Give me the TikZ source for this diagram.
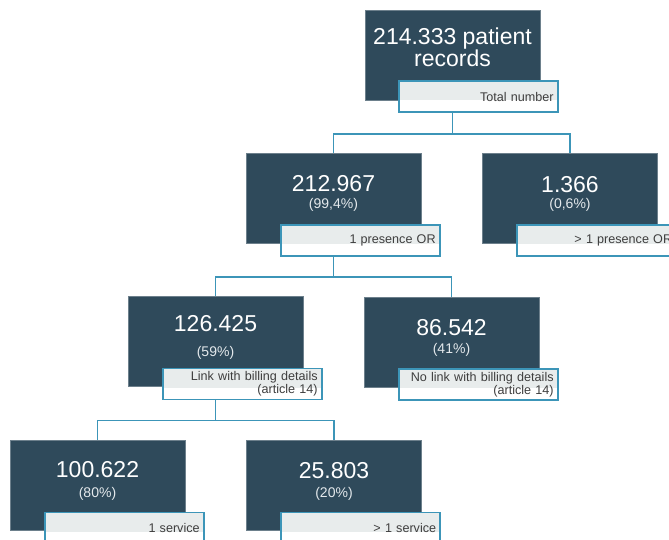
\documentclass[tikz,border=0pt]{standalone}
\usepackage{fontspec}
\setmainfont{Liberation Sans}
\usetikzlibrary{positioning,calc}

\definecolor{slate}{HTML}{2F4A5B}
\definecolor{wire}{HTML}{3C95B8}
\definecolor{tagfill}{HTML}{E8ECEC}
\definecolor{tagtext}{HTML}{3E3E3E}
\definecolor{pcttext}{HTML}{E4E9EC}

\tikzset{
	rec/.style={fill=slate, draw=slate!70!white, line width=0.4pt, minimum width=175pt, minimum height=90pt, inner sep=0pt},
	num/.style={text=white, font=\fontsize{23}{23}\selectfont, inner sep=0pt, anchor=base},
	pct/.style={text=pcttext, font=\fontsize{14}{14}\selectfont, inner sep=0pt, anchor=base},
	tag/.style={draw=wire, line width=1.7pt, fill=white, minimum width=159pt, minimum height=31pt,
		text width=151pt, align=right, inner xsep=4pt, inner ysep=2pt,
		font=\fontsize{12.6}{13}\selectfont, text=tagtext, anchor=north west,
		path picture={\fill[tagfill] (path picture bounding box.north west) rectangle ([yshift=-19pt]path picture bounding box.north east);}},
	wireline/.style={draw=wire, line width=1.8pt}
}

\begin{document}
\begin{tikzpicture}[x=1pt,y=-1pt]
	\useasboundingbox (0,0) rectangle (669,539);
	\clip (0,0) rectangle (669,539);

	% boxes
	\node[rec]	(r0)	at (452.5,55)	{};
	\node[rec]	(r1a)	at (333.5,198)	{};
	\node[rec]	(r1b)	at (570,198)	{};
	\node[rec]	(r2a)	at (215.5,341.5){};
	\node[rec]	(r2b)	at (451.5,342)	{};
	\node[rec]	(r3a)	at (97.5,485.5)	{};
	\node[rec]	(r3b)	at (334,485.5)	{};

	% numbers
	\node[num]	(r0n)	at (452.5,44.3)	{214.333 patient};
	\node[num]	(r0m)	at (452.5,66.7)	{records};
	\node[num]	(r1an)	at (333.5,191.7){212.967};
	\node[pct]	(r1ap)	at (333.5,208.3){(99,4\%)};
	\node[num]	(r1bn)	at (570,192.3)	{1.366};
	\node[pct]	(r1bp)	at (570,208.3)	{(0,6\%)};
	\node[num]	(r2an)	at (215.5,331)	{126.425};
	\node[pct]	(r2ap)	at (215.5,356.7){(59\%)};
	\node[num]	(r2bn)	at (451.5,335.7){86.542};
	\node[pct]	(r2bp)	at (451.5,353.3){(41\%)};
	\node[num]	(r3an)	at (97.5,477.7)	{100.622};
	\node[pct]	(r3ap)	at (97.5,497.3)	{(80\%)};
	\node[num]	(r3bn)	at (334,478.3)	{25.803};
	\node[pct]	(r3bp)	at (334,497.3)	{(20\%)};

	% tags
	\node[tag]	(r0t)	at ([shift={(33,-20)}]r0.south west)	{Total number};
	\node[tag]	(r1at)	at ([shift={(34,-19)}]r1a.south west)	{1 presence OR};
	\node[tag]	(r1bt)	at ([shift={(34,-19)}]r1b.south west)	{> 1 presence OR};
	\node[tag]	(r2at)	at ([shift={(34,-19)}]r2a.south west)	{Link with billing details\\(article 14)};
	\node[tag]	(r2bt)	at ([shift={(34,-19)}]r2b.south west)	{No link with billing details\\(article 14)};
	\node[tag]	(r3at)	at ([shift={(34,-19)}]r3a.south west)	{1 service};
	\node[tag]	(r3bt)	at ([shift={(34,-19)}]r3b.south west)	{> 1 service};

	% connectors
	\coordinate (s0) at ($(r0.center |- r0t.south)+(0,21)$);
	\coordinate (s1) at ($(r1a.center |- r1at.south)+(0,20)$);
	\coordinate (s2) at ($(r2a.center |- r2at.south)+(0,20)$);

	\draw[wireline] (r0.center |- r0t.south) -- (s0) -| (r1a.north);
	\draw[wireline] (s0) -| (r1b.north);
	\draw[wireline] (r1a.center |- r1at.south) -- (s1) -| (r2a.north);
	\draw[wireline] (s1) -| (r2b.north);
	\draw[wireline] (r2a.center |- r2at.south) -- (s2) -| (r3a.north);
	\draw[wireline] (s2) -| (r3b.north);
\end{tikzpicture}
\end{document}
